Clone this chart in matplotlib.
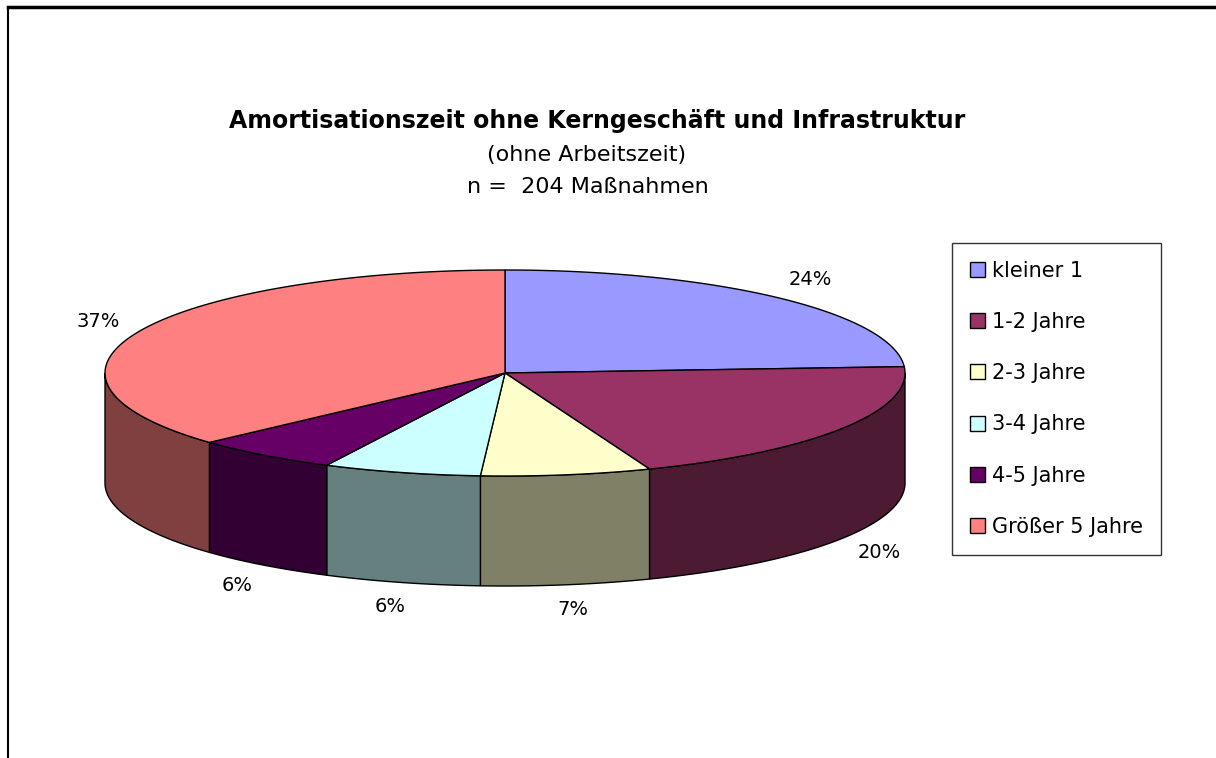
import numpy as np
import matplotlib.pyplot as plt
from matplotlib.patches import Polygon, Patch
from matplotlib.lines import Line2D

categories = ["kleiner 1", "1-2 Jahre", "2-3 Jahre", "3-4 Jahre", "4-5 Jahre", "Größer 5 Jahre"]
counts = [49, 41, 14, 13, 12, 75]   # n = 204
top_colors = ["#9999FF", "#993366", "#FFFFCC", "#CCFFFF", "#660066", "#FF8080"]
side_colors = ["#4D4D80", "#4D1A33", "#808066", "#668080", "#330033", "#804040"]
title = "Amortisationszeit ohne Kerngeschäft und Infrastruktur"
subtitle = ["(ohne Arbeitszeit)", "n =  204 Maßnahmen"]

plt.rcParams['font.family'] = ['DejaVu Sans']

fig = plt.figure(figsize=(12.16, 7.58), dpi=100)
ax = fig.add_axes([0, 0, 1, 1])
ax.set_xlim(0, 1216)
ax.set_ylim(758, 0)
ax.axis('off')

# pie geometry (pixels)
cx, cy, rx, ry, depth = 505, 373, 400, 103, 110


def pt(theta, dy=0):
    t = np.radians(theta)
    return cx + rx * np.sin(t), cy - ry * np.cos(t) + dy


total = float(sum(counts))
shares = [c / total for c in counts]
edges = np.concatenate([[0], np.cumsum(shares) * 360])

# side walls (front half only, 90..270 deg)
for i in range(len(counts)):
    a, b = max(edges[i], 90), min(edges[i + 1], 270)
    if b <= a:
        continue
    th = np.linspace(a, b, 80)
    xs, ys = pt(th)
    xb, yb = pt(th[::-1], depth)
    poly = np.column_stack([np.concatenate([xs, xb]), np.concatenate([ys, yb])])
    ax.add_patch(Polygon(poly, closed=True, facecolor=side_colors[i],
                         edgecolor='black', linewidth=1))

# top faces
for i in range(len(counts)):
    th = np.linspace(edges[i], edges[i + 1], 120)
    xs, ys = pt(th)
    poly = np.column_stack([np.concatenate([[cx], xs]), np.concatenate([[cy], ys])])
    ax.add_patch(Polygon(poly, closed=True, facecolor=top_colors[i],
                         edgecolor='black', linewidth=1))

# percentage labels
for i, s in enumerate(shares):
    mid = np.radians((edges[i] + edges[i + 1]) / 2)
    lx = cx + 445 * np.sin(mid)
    ly = cy - 128 * np.cos(mid) + (depth if np.cos(mid) < 0 else 0)
    ax.text(lx, ly, f"{round(s * 100)}%", ha='center', va='center', fontsize=14)

# titles
ax.text(597, 128, title, ha='center', va='baseline', fontsize=17, fontweight='bold')
ax.text(587, 161, subtitle[0], ha='center', va='baseline', fontsize=16)
ax.text(588, 193, subtitle[1], ha='center', va='baseline', fontsize=16)

# legend
handles = [Patch(facecolor=c, edgecolor='black', linewidth=1) for c in top_colors]
ax.legend(handles, categories, loc='upper left',
          bbox_to_anchor=(952 / 1216, 1 - 243 / 758), fontsize=15,
          frameon=True, fancybox=False, edgecolor='#333333', framealpha=1,
          handlelength=0.72, handleheight=0.72, handletextpad=0.34,
          labelspacing=1.5, borderpad=0.85, borderaxespad=0)

# chart frame (top and left border)
fig.add_artist(Line2D([8 / 1216, 1], [1 - 7 / 758, 1 - 7 / 758], color='black', linewidth=2.5))
fig.add_artist(Line2D([8 / 1216, 8 / 1216], [0, 1 - 7 / 758], color='black', linewidth=1.5))

fig.savefig("out.png", dpi=100)
